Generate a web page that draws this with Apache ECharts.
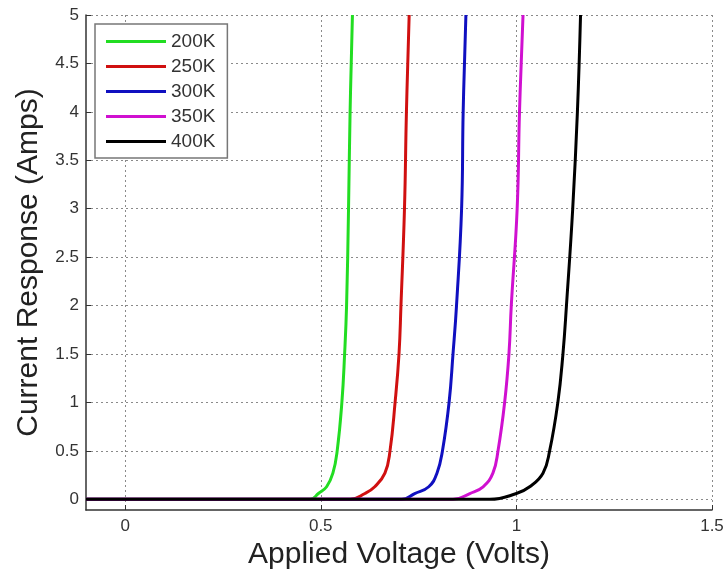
<!DOCTYPE html>
<html>
<head>
<meta charset="utf-8">
<script src="https://cdn.jsdelivr.net/npm/echarts@6/dist/echarts.min.js"></script>
<style>html,body{margin:0;padding:0;background:#fff;}#c{width:727px;height:575px;}</style>
</head>
<body>
<div id="c"></div>
<script>
// Current levels (Amps) at which the voltage of each curve was read
const currentLevels = [0, 0, 0.06, 0.13, 0.27, 0.5, 1, 1.5, 2, 3, 4, 5];
// Applied voltage (Volts) for each temperature at those current levels
const v200K = [-0.1, 0.473, 0.494, 0.515, 0.531, 0.542, 0.554, 0.561, 0.566, 0.571, 0.575, 0.581];
const v250K = [-0.1, 0.575, 0.613, 0.638, 0.664, 0.677, 0.690, 0.700, 0.705, 0.714, 0.719, 0.726];
const v300K = [-0.1, 0.707, 0.740, 0.776, 0.797, 0.811, 0.828, 0.838, 0.847, 0.860, 0.864, 0.871];
const v350K = [-0.1, 0.838, 0.881, 0.915, 0.940, 0.953, 0.970, 0.981, 0.987, 1.002, 1.008, 1.017];
const v400K = [-0.1, 0.932, 1.000, 1.034, 1.068, 1.085, 1.106, 1.119, 1.128, 1.144, 1.156, 1.164];
const seriesNames = ['200K', '250K', '300K', '350K', '400K'];
const xTicks = [0, 0.5, 1, 1.5];
const yTicks = [0, 0.5, 1, 1.5, 2, 2.5, 3, 3.5, 4, 4.5, 5];

const colors = ['#22dd22', '#d01010', '#1010c0', '#d010d0', '#000000'];
const voltages = [v200K, v250K, v300K, v350K, v400K];

const chart = echarts.init(document.getElementById('c'), null, {renderer: 'canvas'});
const gridLine = {show: true, lineStyle: {color: '#8a8a8a', type: [2, 3], width: 1}};
const font = 'Liberation Sans, Arial, sans-serif';
chart.setOption({
  animation: false,
  backgroundColor: '#ffffff',
  grid: {left: 86, right: 15, top: 15, bottom: 65, containLabel: false},
  legend: {
    orient: 'vertical', left: 95, top: 24,
    icon: 'rect', itemWidth: 60, itemHeight: 3, itemGap: 6,
    padding: [8, 12, 7, 11],
    borderColor: '#777', borderWidth: 1.5, backgroundColor: '#fff',
    textStyle: {fontSize: 19, color: '#333', fontFamily: font, padding: [0, 0, 0, 0]},
    data: seriesNames
  },
  xAxis: {
    type: 'value', min: -0.1, max: 1.5,
    name: 'Applied Voltage (Volts)', nameLocation: 'middle', nameGap: 26,
    nameTextStyle: {fontSize: 30, color: '#222', fontFamily: font},
    axisLine: {show: true, onZero: false, lineStyle: {color: '#333', width: 1.5}},
    axisTick: {show: true, inside: true, length: 5, customValues: xTicks, lineStyle: {color: '#333'}},
    axisLabel: {customValues: xTicks, fontSize: 17, color: '#333', margin: 8,
      fontFamily: font, formatter: v => String(v)},
    splitLine: gridLine
  },
  yAxis: {
    type: 'value', min: -0.11, max: 5,
    name: 'Current Response (Amps)', nameLocation: 'middle', nameGap: 42,
    nameTextStyle: {fontSize: 30, color: '#222', fontFamily: font},
    axisLine: {show: true, onZero: false, lineStyle: {color: '#333', width: 1.5}},
    axisTick: {show: true, inside: true, length: 5, customValues: yTicks, lineStyle: {color: '#333'}},
    axisLabel: {customValues: yTicks, fontSize: 17, color: '#333', margin: 7,
      fontFamily: font, formatter: v => String(v)},
    splitLine: gridLine
  },
  series: seriesNames.map((n, i) => ({
    name: n, type: 'line', symbol: 'none', smooth: 0.45,
    color: colors[i],
    lineStyle: {width: 3, color: colors[i]},
    data: voltages[i].map((v, k) => [v, currentLevels[k]]),
    z: 2 + i
  }))
});
</script>
</body>
</html>
